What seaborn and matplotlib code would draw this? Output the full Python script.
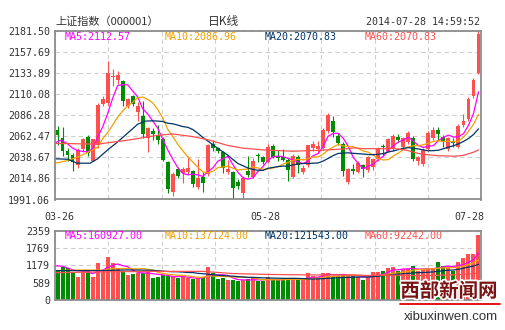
import numpy as np
import pandas as pd
import matplotlib
matplotlib.use("Agg")
import matplotlib.pyplot as plt
from matplotlib import patheffects as pe
import seaborn as sns

# ---- daily K-line data, 2014-03-26 .. 2014-07-28 (85 sessions) ----
opens = [2069, 2060, 2046, 2041, 2030, 2048, 2062, 2035, 2052, 2099,
         2100, 2129, 2126, 2125, 2096, 2108, 2090, 2085, 2061, 2068,
         2064, 2059, 2033, 2000, 2025.5, 2021, 2022, 2023, 2005, 2016,
         2020, 2054, 2049, 2045, 2022, 2022, 2011, 1998, 2023, 2017,
         2041.5, 2039, 2033, 2051, 2040.5, 2039.5, 2036, 2017, 2039, 2022,
         2030, 2049, 2048, 2049, 2068, 2080, 2063, 2054, 2011, 2026,
         2022, 2030, 2024, 2028, 2037, 2051.5, 2046, 2048, 2062, 2050,
         2056, 2061, 2034, 2031, 2048, 2060, 2069, 2062, 2048, 2057.5,
         2050, 2075, 2082, 2108, 2134]
highs = [2074, 2073, 2049, 2044, 2049, 2061, 2064, 2059, 2100, 2108,
         2147, 2138, 2136, 2126, 2106, 2109, 2101, 2102, 2073, 2072,
         2075, 2062, 2034, 2022, 2028, 2028, 2040, 2024, 2037, 2022,
         2054, 2058, 2050, 2046, 2036, 2023, 2014, 2018, 2040, 2038,
         2044, 2040, 2054, 2054, 2047, 2048, 2038, 2042, 2041, 2030,
         2053, 2057, 2057, 2072, 2089, 2085, 2066, 2056, 2027, 2031,
         2035, 2031, 2040, 2038, 2050, 2054, 2061, 2065, 2065, 2062,
         2068, 2063, 2040, 2049, 2068, 2073, 2073, 2064, 2062, 2060,
         2076, 2087, 2107, 2128, 2181.5]
lows = [2052, 2040, 2035, 2023, 2027, 2045, 2040, 2034, 2049, 2096,
        2097, 2119, 2121, 2097, 2094, 2096, 2080, 2061, 2045, 2058,
        2054, 2035, 1998, 1995, 2015, 2010, 2020, 2005, 2003, 2000,
        2018, 2046, 2043, 2021, 2020, 1993, 2003, 1990, 2016, 2015,
        2033, 2031, 2032, 2038, 2035, 2034, 2012, 2015, 2021, 2020,
        2028, 2046, 2044, 2047, 2066, 2062, 2052, 2018, 2008, 2020,
        2021, 2016, 2022, 2024, 2035, 2040, 2045, 2046, 2056, 2048,
        2054, 2035, 2030, 2029, 2046, 2058, 2057, 2050, 2046, 2050,
        2049, 2073, 2080, 2106, 2133]
closes = [2063.7, 2046, 2041.7, 2033, 2047, 2059, 2043.7, 2058.8, 2098, 2104.5,
          2134, 2130.5, 2131.5, 2102, 2104.5, 2099, 2097, 2065, 2072, 2065.5,
          2058, 2036, 2003, 2020, 2018, 2026, 2027, 2008, 2015, 2010,
          2052, 2049, 2046, 2027, 2026, 2004, 2006, 2015, 2019, 2034,
          2040, 2033, 2050.5, 2039, 2038, 2036, 2024, 2040, 2030, 2027,
          2052, 2054, 2051, 2070, 2086, 2067, 2055, 2023, 2025, 2023,
          2032, 2025, 2038.5, 2036.5, 2048, 2050.5, 2059.5, 2063.2, 2058.3, 2060,
          2066, 2037, 2039, 2047, 2066.5, 2070, 2065, 2057, 2060.5, 2054.25,
          2074, 2080, 2105, 2126, 2177.85]
volumes = [1025, 1140, 1105, 910, 795, 990, 990, 795, 1275, 1025,
           1480, 1275, 1080, 990, 855, 875, 935, 935, 990, 740,
           775, 855, 820, 795, 740, 795, 740, 705, 740, 795,
           1115, 930, 715, 740, 680, 680, 650, 680, 705, 740,
           650, 650, 775, 680, 680, 680, 740, 740, 680, 680,
           910, 820, 795, 930, 930, 820, 820, 850, 820, 820,
           795, 680, 795, 945, 941.6, 1000, 1090, 1140, 980, 1060,
           1050, 1160, 990, 1030, 1096.2, 1060, 1290, 1170, 1150, 996,
           1280, 1420, 1580, 1560, 2206]

# moving-average levels before enough sessions are in view
ma5_head_x, ma5_head_y = [-0.5, 0.7, 2, 3], [2055, 2058, 2054, 2049]
ma10_head_x, ma10_head_y = [-0.5, 2, 4, 6, 8], [2032, 2035, 2039, 2044, 2050]
ma20_head_x = [-0.5, 2, 3.5, 4, 6.5, 8, 10, 12, 14, 16, 17.5]
ma20_head_y = [2037, 2036.5, 2033, 2032, 2032, 2037, 2047, 2056, 2066, 2076, 2079.5]
ma60_head_x = [-0.5, 8, 14, 20, 23, 27, 30, 34, 37, 41, 47, 54, 58]
ma60_head_y = [2054.4, 2053.5, 2058, 2063.5, 2065, 2062, 2058.5, 2052, 2049, 2047,
               2045.5, 2047, 2048.5]

vma5_head_x, vma5_head_y = [-0.5, 1, 2, 3], [1165, 1150, 1090, 1030]
vma10_head_x, vma10_head_y = [-0.5, 4, 8], [1000, 1020, 1020]
vma20_head_x, vma20_head_y = [-0.5, 9, 14, 18], [1000, 1000, 1025, 1015]
vma60_head_x = [-0.5, 10, 20, 29, 35, 42, 50, 58]
vma60_head_y = [930, 960, 975, 975, 900, 870, 855, 852]

price_tick_labels = ["1991.06", "2014.86", "2038.67", "2062.47", "2086.28",
                     "2110.08", "2133.89", "2157.69", "2181.50"]
volume_tick_labels = ["0", "589", "1179", "1769", "2359"]
date_labels = ["03-26", "05-28", "07-28"]

price_labels = ["MA5:2112.57", "MA10:2086.96", "MA20:2070.83", "MA60:2070.83"]
volume_labels = ["MA5:160927.00", "MA10:137124.00", "MA20:121543.00", "MA60:92242.00"]

# ---- style ----
sns.set_style("white")
plt.rcParams["font.family"] = ["DejaVu Sans Mono", "Noto Sans CJK SC"]

RED = "#FF4F4F"
GREEN = "#008C00"
MA_COLORS = ["#FF00FF", "#F5A000", "#003366", "#FF4F4F"]
GRID = "#cfcfcf"
FRAME = "#8c8c8c"
TXT = "#333333"

W, H = 505, 330
fig = plt.figure(figsize=(W / 100, H / 100), dpi=100)
fig.patch.set_facecolor("white")


def px(x, y):
    return x / W, 1 - y / H


ax = fig.add_axes([55 / W, 1 - 199.5 / H, 426 / W, 168.8 / H])
axv = fig.add_axes([55 / W, 1 - 300 / H, 426 / W, 69.3 / H])

o = np.array(opens, float)
c = np.array(closes, float)
hi = np.array(highs, float)
lo = np.array(lows, float)
vol = np.array(volumes, float)
idx = np.arange(len(c))
rising = c >= o
cols = np.where(rising, RED, GREEN)


def moving_average(values, n, head_x, head_y):
    s = pd.Series(values, dtype=float).rolling(n).mean()
    xs = list(head_x) + list(range(n - 1, len(values)))
    ys = list(head_y) + s.iloc[n - 1:].tolist()
    return pd.DataFrame({"x": xs, "y": ys})


# ---- candles ----
ax.vlines(idx, lo, hi, colors=cols, lw=0.8, zorder=2)
ax.bar(idx, np.maximum(np.abs(c - o), 0.6), bottom=np.minimum(o, c), width=0.78,
       color=cols, linewidth=0, zorder=2.5)

price_mas = [
    moving_average(c, 5, ma5_head_x, ma5_head_y),
    moving_average(c, 10, ma10_head_x, ma10_head_y),
    moving_average(c, 20, ma20_head_x, ma20_head_y),
    moving_average(c, 60, ma60_head_x, ma60_head_y),
]
for df, col in zip(price_mas, MA_COLORS):
    sns.lineplot(data=df, x="x", y="y", ax=ax, color=col, lw=0.9, zorder=3)

ax.set_xlim(-0.5, len(c) - 0.5)
ax.set_ylim(1991.06, 2181.50)
ax.set_yticks(np.linspace(1991.06, 2181.50, 9))
ax.set_yticklabels(price_tick_labels)
ax.set_xticks(np.linspace(-0.5, len(c) - 0.5, 9))
ax.set_xticklabels([])

# ---- volume ----
vdf = pd.DataFrame({"i": idx, "v": vol, "dir": np.where(rising, "up", "down")})
sns.barplot(data=vdf, x="i", y="v", hue="dir", palette={"up": RED, "down": GREEN},
            dodge=False, width=0.8, saturation=1, linewidth=0, legend=False,
            ax=axv, zorder=2)
vol_mas = [
    moving_average(vol, 5, vma5_head_x, vma5_head_y),
    moving_average(vol, 10, vma10_head_x, vma10_head_y),
    moving_average(vol, 20, vma20_head_x, vma20_head_y),
    moving_average(vol, 60, vma60_head_x, vma60_head_y),
]
for df, col in zip(vol_mas, MA_COLORS):
    sns.lineplot(data=df, x="x", y="y", ax=axv, color=col, lw=0.9, zorder=3)

axv.set_xlim(-0.5, len(c) - 0.5)
axv.set_ylim(0, 2359)
axv.set_yticks(np.linspace(0, 2359, 5))
axv.set_yticklabels(volume_tick_labels)
axv.set_xticks(np.linspace(-0.5, len(c) - 0.5, 9))
axv.set_xticklabels([])

for a in (ax, axv):
    a.set_xlabel("")
    a.set_ylabel("")
    a.grid(True, ls=(0, (4, 3)), color=GRID, lw=0.8, zorder=0)
    a.set_axisbelow(True)
    a.tick_params(axis="both", length=0, pad=3.6, labelsize=7.2, labelcolor=TXT)
    for s in a.spines.values():
        s.set_color(FRAME)
        s.set_linewidth(1.3)
        s.set_zorder(5)

# ---- header texts ----
fig.text(*px(55, 22), "上证指数（000001）", family=["Noto Sans CJK SC"], fontsize=8,
         color=TXT, ha="left", va="center")
fig.text(*px(224, 22), "日K线", family=["Noto Sans CJK SC"], fontsize=8.5,
         color=TXT, ha="center", va="center")
fig.text(*px(480, 22), "2014-07-28 14:59:52", fontsize=7.2, color=TXT,
         ha="right", va="center")

label_x = [65, 165, 265, 365]
for lx, t, col in zip(label_x, price_labels, MA_COLORS):
    fig.text(*px(lx, 36.5), t, fontsize=7.2, color=col, ha="left", va="center")
for lx, t, col in zip(label_x, volume_labels, MA_COLORS):
    fig.text(*px(lx, 236), t, fontsize=7.2, color=col, ha="left", va="center")

for lx, t in zip([59.5, 265, 469.5], date_labels):
    fig.text(*px(lx, 217), t, fontsize=7.2, color=TXT, ha="center", va="center")

# ---- site mark ----
fig.text(*px(449, 291.5), "西部新闻网", family=["Noto Sans CJK SC"], fontsize=14,
         fontweight="bold", color="#7a1414", ha="center", va="center", zorder=10,
         path_effects=[pe.withStroke(linewidth=2.5, foreground="white")])
fig.add_artist(plt.Line2D([400 / W, 500 / W], [1 - 304.3 / H] * 2, color="#e00000",
                          lw=1.3, zorder=10))
fig.text(*px(450.5, 316.5), "xibuxinwen.com", family=["Liberation Sans"], fontsize=9.5,
         color=TXT, ha="center", va="center", zorder=10)

fig.savefig("out.png", dpi=100, facecolor="white")
